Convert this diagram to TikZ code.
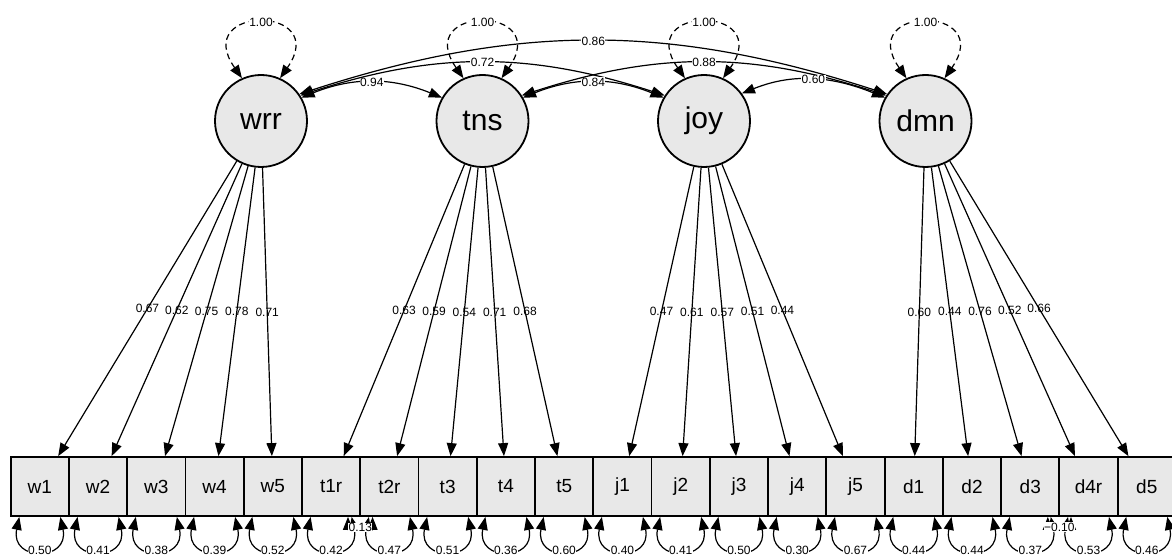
\documentclass[tikz,border=0pt]{standalone}
\usepackage{fontspec}
\setmainfont{Liberation Sans}
\usetikzlibrary{arrows.meta}

\tikzset{
  latent/.style={circle, draw, line width=1.8pt, fill=black!9, minimum size=92pt, inner sep=0pt, font=\fontsize{30}{30}\selectfont},
  manifest/.style={rectangle, draw, line width=1.8pt, fill=black!9, minimum width=58.26pt, minimum height=59pt, inner sep=0pt, font=\fontsize{19}{19}\selectfont},
  load/.style={line width=1.2pt, -{Triangle[length=13pt,width=10pt]}},
  twoway/.style={line width=1.2pt, {Triangle[length=13pt,width=10pt]}-{Triangle[length=13pt,width=10pt]}},
  est/.style={font=\fontsize{12}{12}\selectfont, inner sep=0.5pt},
  estbg/.style={est, fill=white},
}

\begin{document}
\begin{tikzpicture}[x=1pt,y=1pt]
  \useasboundingbox (0,0) rectangle (1172,555);

  % latent factors
  \node[latent] (wrr) at (261,434) {wrr};
  \node[latent] (tns) at (482.5,434) {tns};
  \node[latent] (joy) at (704,434) {joy};
  \node[latent] (dmn) at (925.5,434) {dmn};

  % indicators
  \foreach \ind [count=\i from 0] in {w1,w2,w3,w4,w5,t1r,t2r,t3,t4,t5,j1,j2,j3,j4,j5,d1,d2,d3,d4r,d5}
    \node[manifest] (\ind) at ({10.7+58.26*(\i+0.5)},68.5) {\ind};

  % loadings
  \foreach \f/\ind/\val in {wrr/w1/0.67, wrr/w2/0.62, wrr/w3/0.75, wrr/w4/0.78, wrr/w5/0.71,
      tns/t1r/0.63, tns/t2r/0.59, tns/t3/0.54, tns/t4/0.71, tns/t5/0.68,
      joy/j1/0.47, joy/j2/0.61, joy/j3/0.57, joy/j4/0.51, joy/j5/0.44,
      dmn/d1/0.60, dmn/d2/0.44, dmn/d3/0.76, dmn/d4r/0.52, dmn/d5/0.66}
    \draw[load] (\f) -- node[est] {\val} (\ind);

  % residual variances
  \foreach \ind/\val in {w1/0.50, w2/0.41, w3/0.38, w4/0.39, w5/0.52,
      t1r/0.42, t2r/0.47, t3/0.51, t4/0.36, t5/0.60,
      j1/0.40, j2/0.41, j3/0.50, j4/0.30, j5/0.67,
      d1/0.44, d2/0.44, d3/0.37, d4r/0.53, d5/0.46}
    \draw[twoway] (\ind.-124) .. controls +(-102:46) and +(-78:46) .. node[estbg] {\val} (\ind.-56);

  % residual covariances
  \draw[twoway] (t1r.-61) to[out=-90,in=-90,looseness=1.5] node[estbg] {0.13} (t2r.-119);
  \draw[twoway] (d3.-60) to[out=-90,in=-90,looseness=1.5] node[estbg] {−0.10} (d4r.-120);

  % factor variances
  \foreach \f in {wrr,tns,joy,dmn}
    \draw[twoway, dash pattern=on 6pt off 4pt] (\f.114) .. controls +(125:90) and +(55:90) .. node[estbg] {1.00} (\f.66);

  % factor covariances
  \draw[twoway] (wrr.30) to[out=22,in=158] node[estbg] {0.94} (tns.150);
  \draw[twoway] (wrr.33) to[out=18,in=162] node[estbg] {0.72} (joy.147);
  \draw[twoway] (wrr.35) to[out=18,in=162] node[estbg] {0.86} (dmn.145);
  \draw[twoway] (tns.30) to[out=22,in=158] node[estbg] {0.84} (joy.150);
  \draw[twoway] (tns.33) to[out=18,in=162] node[estbg] {0.88} (dmn.147);
  \draw[twoway] (joy.36) to[out=22,in=158] node[estbg] {0.60} (dmn.150);
\end{tikzpicture}
\end{document}
